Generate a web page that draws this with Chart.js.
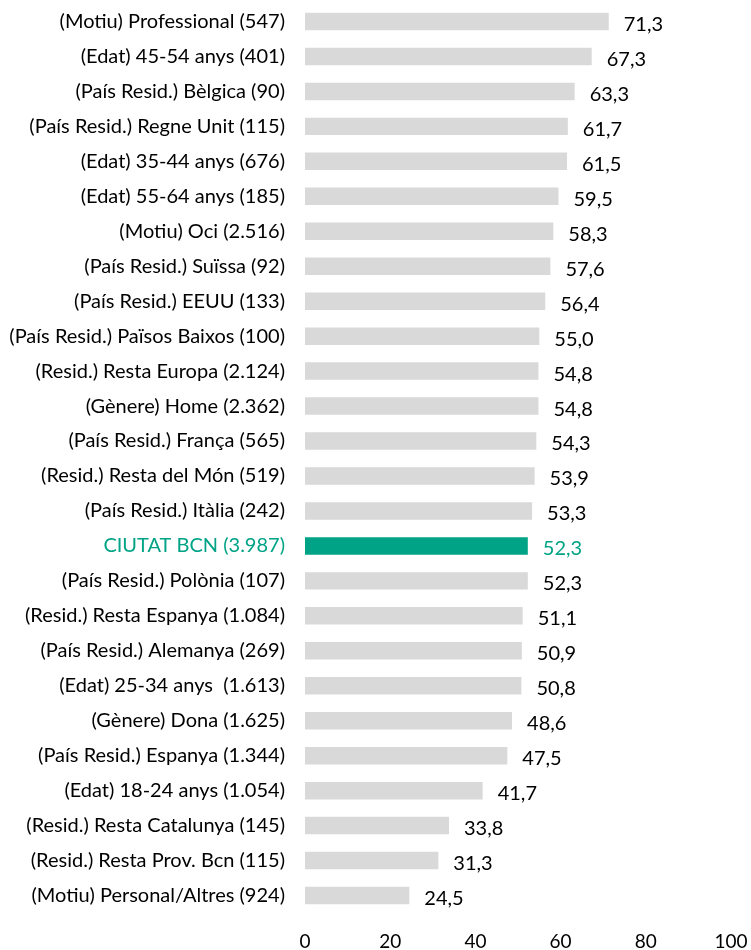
<!DOCTYPE html>
<html>
<head>
<meta charset="utf-8">
<script src="https://cdn.jsdelivr.net/npm/chart.js@4"></script>
<style>
  html, body { margin: 0; padding: 0; background: #fff; }
  #wrap { width: 751px; height: 950px; position: relative; }
</style>
</head>
<body>
<div id="wrap"><canvas id="bars"></canvas></div>
<script>
var categories = [
  '(Motiu) Professional (547)',
  '(Edat) 45-54 anys (401)',
  '(País Resid.) Bèlgica (90)',
  '(País Resid.) Regne Unit (115)',
  '(Edat) 35-44 anys (676)',
  '(Edat) 55-64 anys (185)',
  '(Motiu) Oci (2.516)',
  '(País Resid.) Suïssa (92)',
  '(País Resid.) EEUU (133)',
  '(País Resid.) Països Baixos (100)',
  '(Resid.) Resta Europa (2.124)',
  '(Gènere) Home (2.362)',
  '(País Resid.) França (565)',
  '(Resid.) Resta del Món (519)',
  '(País Resid.) Itàlia (242)',
  'CIUTAT BCN (3.987)',
  '(País Resid.) Polònia (107)',
  '(Resid.) Resta Espanya (1.084)',
  '(País Resid.) Alemanya (269)',
  '(Edat) 25-34 anys  (1.613)',
  '(Gènere) Dona (1.625)',
  '(País Resid.) Espanya (1.344)',
  '(Edat) 18-24 anys (1.054)',
  '(Resid.) Resta Catalunya (145)',
  '(Resid.) Resta Prov. Bcn (115)',
  '(Motiu) Personal/Altres (924)'
];
var values = [71.3, 67.3, 63.3, 61.7, 61.5, 59.5, 58.3, 57.6, 56.4, 55.0, 54.8, 54.8, 54.3, 53.9, 53.3,
              52.3, 52.3, 51.1, 50.9, 50.8, 48.6, 47.5, 41.7, 33.8, 31.3, 24.5];
var highlight = 'CIUTAT BCN (3.987)';
var xTicks = [0, 20, 40, 60, 80, 100];

var GREY = '#d9d9d9';
var TEAL = '#00a385';
var FONT = "Lato, sans-serif";

var colors = categories.map(c => c === highlight ? TEAL : GREY);

// value labels to the right of each bar, with comma decimals
var valueLabels = {
  id: 'valueLabels',
  afterDatasetsDraw(chart) {
    var ctx = chart.ctx;
    var meta = chart.getDatasetMeta(0);
    ctx.save();
    ctx.font = '20px ' + FONT;
    ctx.textBaseline = 'middle';
    ctx.textAlign = 'left';
    meta.data.forEach((bar, i) => {
      ctx.fillStyle = categories[i] === highlight ? TEAL : '#000';
      ctx.fillText(values[i].toFixed(1).replace('.', ','), bar.x + 15, bar.y + 3);
    });
    ctx.restore();
  }
};

new Chart(document.getElementById('bars'), {
  type: 'bar',
  data: {
    labels: categories,
    datasets: [{
      data: values,
      backgroundColor: colors,
      borderWidth: 0,
      barPercentage: 0.5,
      categoryPercentage: 1
    }]
  },
  options: {
    indexAxis: 'y',
    responsive: true,
    maintainAspectRatio: false,
    animation: false,
    layout: { padding: { top: 4, right: 20, left: 0, bottom: 0 } },
    plugins: {
      legend: { display: false },
      title: { display: false },
      tooltip: { enabled: false }
    },
    scales: {
      x: {
        min: 0,
        max: 100,
        afterBuildTicks(scale) { scale.ticks = xTicks.map(v => ({ value: v })); },
        grid: { display: false, drawTicks: false },
        border: { display: false },
        ticks: {
          padding: 17,
          color: '#000',
          font: { family: FONT, size: 19 }
        },
        afterFit(scale) {
          scale.height = 37;
          scale.paddingLeft = 0;
          scale.paddingRight = 0;
        }
      },
      y: {
        grid: { display: false, drawTicks: false },
        border: { display: false },
        ticks: {
          padding: 20,
          autoSkip: false,
          color: ctx => categories[ctx.index] === highlight ? TEAL : '#000',
          font: { family: FONT, size: 20 }
        },
        afterFit(scale) {
          scale.width = 305;
          scale.paddingTop = 0;
          scale.paddingBottom = 0;
        }
      }
    }
  },
  plugins: [valueLabels]
});
</script>
</body>
</html>
